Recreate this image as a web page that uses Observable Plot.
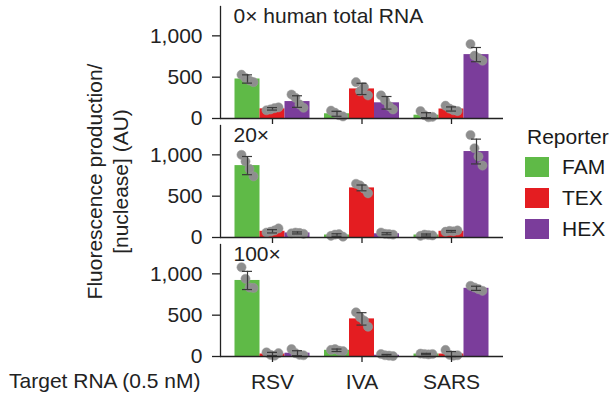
<!DOCTYPE html>
<html>
<head>
<meta charset="utf-8">
<script src="https://cdn.jsdelivr.net/npm/d3@7"></script>
<script src="https://cdn.jsdelivr.net/npm/@observablehq/plot@0.6"></script>
<style>
  body { margin: 0; background: #fff; }
  #wrap { position: relative; width: 615px; height: 400px; font-family: "Liberation Sans", Arial, sans-serif; color: #1a1a1a; }
  #legend { position: absolute; left: 525px; top: 123px; font-size: 21px; }
  #legend .title { margin-left: 2px; height: 28px; line-height: 28px; }
  #legend .row { display: flex; align-items: center; height: 31px; }
  #legend .sw { width: 24px; height: 20px; margin-right: 13px; }
</style>
</head>
<body>
<div id="wrap"></div>
<script>
// ---- data ----
const conditions = ["0\u00d7 human total RNA", "20\u00d7", "100\u00d7"];
const targets = ["RSV", "IVA", "SARS"];
const reporters = ["FAM", "TEX", "HEX"];
const reporterColors = ["#5fba47", "#e41d21", "#7b3d9b"];
const yTicks = [0, 500, 1000];
const yLabel = "Fluorescence production/\n[nuclease] (AU)";
const xLabel = "Target RNA (0.5 nM)";

// means (order: RSV FAM, RSV TEX, RSV HEX, IVA FAM, ..., SARS HEX)
const mean0   = [478, 117, 205,  57, 358, 190,  40, 115,  773];
const sd0     = [ 50,  15,  70,  30,  68,  76,  30,  25,   86];
const mean20  = [870,  75,  55,  30, 600,  45,  30,  75, 1040];
const sd20    = [110,  20,  12,  15,  35,  12,  12,  10,  150];
const mean100 = [920,  30,  40,  75, 455,  15,  30,  30,  825];
const sd100   = [110,  20,  30,  15,  75,  10,   8,  30,   25];

// individual replicates
const rep0 = [
  [530, 490, 460, 440], [100, 110, 125, 135], [290, 250, 170, 130],
  [ 95,  70,  40,  25], [440, 330, 380, 280], [280, 220, 150, 110],
  [ 90,  40,  15,  20], [155, 120, 100,  90], [900, 760, 730, 700]
];
const rep20 = [
  [1000, 920, 830, 740], [ 60,  70,  85, 110], [ 50,  60,  55,  45],
  [  20,  35,  40,  10], [650, 630, 590, 535], [ 60,  45,  40,  35],
  [  20,  35,  30,  25], [ 70,  80,  75,  85], [1240, 1080, 980, 870]
];
const rep100 = [
  [1080, 940, 835, 830], [ 50,  20,  10,  40], [ 90,  40,  20,  15],
  [  80,  90,  70,  65], [535, 475, 435, 360], [ 30,  15,  10,   5],
  [  35,  30,  25,  30], [ 80,  20,  10,  15], [855, 835, 815, 795]
];

const meansAll = [mean0, mean20, mean100];
const sdsAll = [sd0, sd20, sd100];
const repsAll = [rep0, rep20, rep100];

const rows = [];
const dots = [];
conditions.forEach((cond, ci) => {
  targets.forEach((target, ti) => {
    reporters.forEach((reporter, ri) => {
      const k = ti * 3 + ri;
      rows.push({cond, target, reporter, ri, mean: meansAll[ci][k], sd: sdsAll[ci][k]});
      repsAll[ci][k].forEach((value, j) => dots.push({cond, target, reporter, ri, j, value}));
    });
  });
});

// ---- layout ----
const width = 615, height = 400;
const marginLeft = 220, marginRight = 112, marginTop = 6, marginBottom = 44;
const pad = 0.162;
const band = d3.scaleBand().domain(targets).range([marginLeft, width - marginRight])
  .paddingInner(pad).paddingOuter(pad);
const sub = band.bandwidth() / reporters.length;
const cap = 10;
const jitter = [-6, -2, 2, 6];
const ink = "#222";
const fs = 21;

const marks = [];
reporters.forEach((rep, ri) => {
  const r = rows.filter(d => d.ri === ri);
  marks.push(Plot.barY(r, {
    x: "target", y: "mean", fy: "cond", fill: "reporter",
    insetLeft: ri * sub, insetRight: (reporters.length - 1 - ri) * sub
  }));
});
reporters.forEach((rep, ri) => {
  const dd = dots.filter(d => d.ri === ri);
  jitter.forEach((jx, j) => {
    marks.push(Plot.dot(dd.filter(d => d.j === j), {
      x: "target", y: "value", fy: "cond", r: 4.6,
      fill: "#8e8e8e", stroke: "#9a9a9a", strokeWidth: 0.5,
      dx: (ri - 1) * sub + jx
    }));
  });
});
reporters.forEach((rep, ri) => {
  const r = rows.filter(d => d.ri === ri);
  const insL = ri * sub + (sub - cap) / 2;
  const insR = (reporters.length - 1 - ri) * sub + (sub - cap) / 2;
  marks.push(Plot.ruleX(r, {
    x: "target", y1: d => d.mean - d.sd, y2: d => d.mean + d.sd, fy: "cond",
    dx: (ri - 1) * sub, stroke: "#3a3a3a", strokeWidth: 1.2
  }));
  marks.push(Plot.tickY(r, {x: "target", y: d => d.mean + d.sd, fy: "cond",
    insetLeft: insL, insetRight: insR, stroke: "#3a3a3a", strokeWidth: 1.2}));
  marks.push(Plot.tickY(r, {x: "target", y: d => d.mean - d.sd, fy: "cond",
    insetLeft: insL, insetRight: insR, stroke: "#3a3a3a", strokeWidth: 1.2}));
});

marks.push(Plot.frame({anchor: "left", stroke: ink, strokeWidth: 1.3}));
marks.push(Plot.ruleY([0], {stroke: ink, strokeWidth: 1.3}));
marks.push(Plot.axisY({ticks: yTicks, tickSize: 8, tickPadding: 10, tickFormat: d3.format(","),
  label: null, fontSize: fs, stroke: ink, strokeWidth: 1.3, fill: ink}));
marks.push(Plot.axisX({facetAnchor: null, tickSize: 6, tickFormat: () => "", label: null,
  stroke: ink, strokeWidth: 1.3}));
marks.push(Plot.axisX({facetAnchor: "bottom", tickSize: 0, tickPadding: 18, label: null,
  fontSize: fs, fill: ink}));
marks.push(Plot.text(conditions, {fy: d => d, text: d => d, frameAnchor: "top-left",
  textAnchor: "start", lineAnchor: "top", dx: 13, dy: 2, fontSize: fs, fill: ink}));
marks.push(Plot.text([yLabel], {fy: () => conditions[1], text: d => d, frameAnchor: "left",
  textAnchor: "middle", lineAnchor: "middle", rotate: -90, dx: -114, lineHeight: 1.25,
  fontSize: fs, fill: ink}));
marks.push(Plot.text([xLabel], {fy: () => conditions[2], text: d => d, frameAnchor: "bottom-left",
  textAnchor: "end", lineAnchor: "middle", dx: -20, dy: 25, fontSize: fs, fill: ink}));

const chart = Plot.plot({
  width, height, marginLeft, marginRight, marginTop, marginBottom,
  style: {fontFamily: "Liberation Sans, Arial, sans-serif", fontSize: fs + "px", color: ink, background: "#fff"},
  x: {domain: targets, paddingInner: pad, paddingOuter: pad, round: false, axis: null},
  y: {domain: [0, 1355], axis: null},
  fy: {domain: conditions, paddingInner: 0.063, paddingOuter: 0, axis: null},
  color: {domain: reporters, range: reporterColors},
  marks
});
const wrap = document.getElementById("wrap");
wrap.appendChild(chart);

// legend
const lg = document.createElement("div");
lg.id = "legend";
lg.innerHTML = `<div class="title">Reporter</div>` +
  reporters.map((r, i) => `<div class="row"><div class="sw" style="background:${reporterColors[i]}"></div><span>${r}</span></div>`).join("");
wrap.appendChild(lg);
</script>
</body>
</html>
